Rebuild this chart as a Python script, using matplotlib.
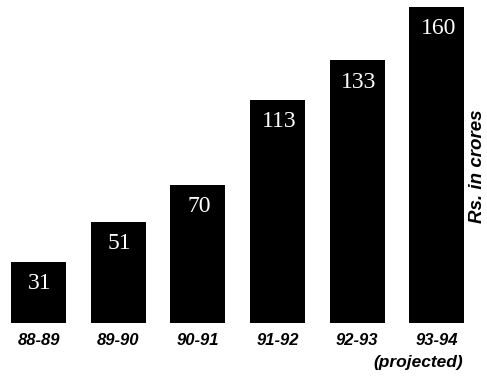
import matplotlib.pyplot as plt

years = ["88-89", "89-90", "90-91", "91-92", "92-93", "93-94"]
values = [31, 51, 70, 113, 133, 160]
note = "(projected)"
ylabel = "Rs. in crores"

fig = plt.figure(figsize=(4.87, 3.86), dpi=100)
ax = fig.add_axes([0.0, 0.163, 0.979, 0.834])

x = range(len(years))
ax.bar(x, values, width=0.69, color="black")

for xi, v in zip(x, values):
    ax.annotate(str(v), (xi, v), xytext=(1, -8), textcoords="offset points",
                ha="center", va="top", color="white",
                family="Liberation Serif", fontsize=17)

ax.set_xlim(-0.485, 5.5)
ax.set_ylim(0, 163)
ax.set_xticks(list(x))
ax.set_xticklabels(years, family="Liberation Sans", style="italic",
                   weight="bold", fontsize=12)
ax.tick_params(axis="x", length=0, pad=7)
ax.set_yticks([])
for s in ax.spines.values():
    s.set_visible(False)

fig.text(418 / 487, 1 - 363 / 386, note, ha="center", va="center",
         family="Liberation Sans", style="italic", weight="bold", fontsize=12.5)
fig.text(478 / 487, 1 - 166 / 386, ylabel, ha="center", va="center",
         rotation=90, family="Liberation Sans", style="italic",
         weight="bold", fontsize=13.5)

fig.savefig("out.png", dpi=100)
